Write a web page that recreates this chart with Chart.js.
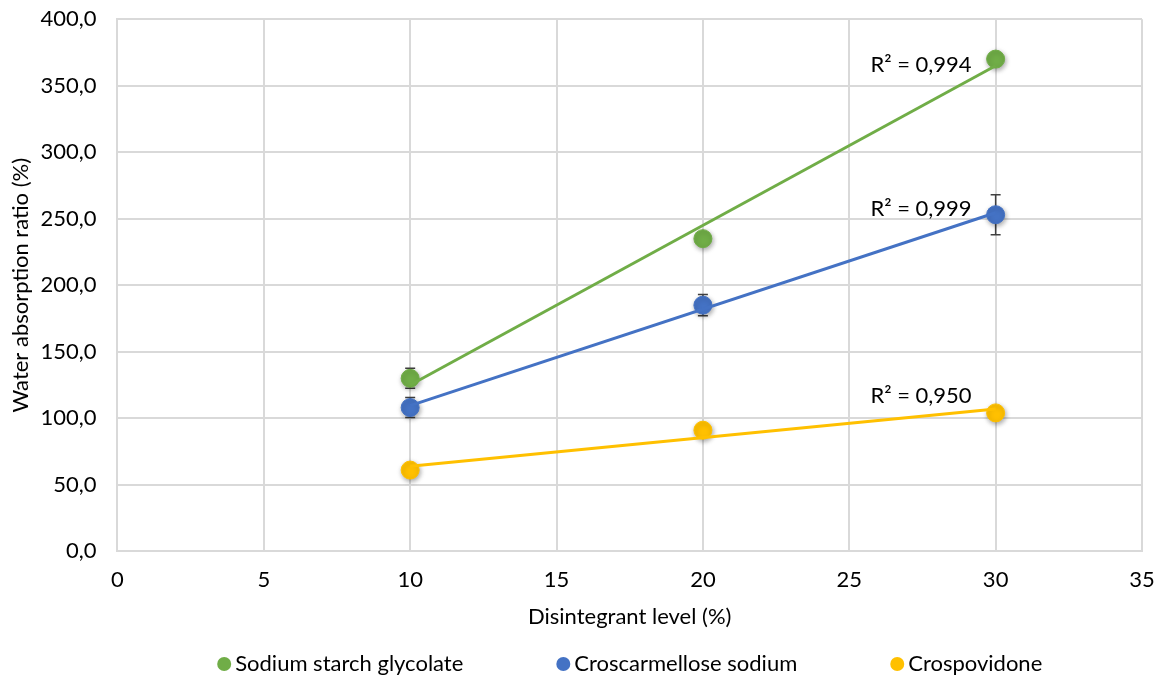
<!DOCTYPE html>
<html>
<head>
<meta charset="utf-8">
<script src="https://cdn.jsdelivr.net/npm/chart.js@4"></script>
<style>
  html, body { margin: 0; padding: 0; background: #fff; }
  #wrap { width: 1165px; height: 682px; }
</style>
</head>
<body>
<div id="wrap"><canvas id="waterChart"></canvas></div>
<script>
// disintegrant level (%) and measured water absorption ratio (%)
const levels = [10, 20, 30];
const sodiumStarch = [130, 235, 370];
const croscarmellose = [108, 185, 253];
const crospovidone = [61, 91, 104];

// standard deviations (error bars)
const sodiumStarchSd = [7.5, 3, 4];
const croscarmelloseSd = [7.5, 8, 15];
const crospovidoneSd = [2, 2, 2];

const seriesNames = ["Sodium starch glycolate", "Croscarmellose sodium", "Crospovidone"];
const seriesColors = ["#70AD47", "#4472C4", "#FFC000"];
const rSquared = ["0,994", "0,999", "0,950"];

const yTicks = [0, 50, 100, 150, 200, 250, 300, 350, 400];
const xTicks = [0, 5, 10, 15, 20, 25, 30, 35];

const FONT = "Lato, 'DejaVu Sans', sans-serif";
const FSIZE = 22;

// least squares line through the measured points
const fitLine = (xs, ys) => {
  const n = xs.length;
  const mx = xs.reduce((a, b) => a + b, 0) / n;
  const my = ys.reduce((a, b) => a + b, 0) / n;
  let sxy = 0, sxx = 0;
  xs.forEach((x, i) => { sxy += (x - mx) * (ys[i] - my); sxx += (x - mx) * (x - mx); });
  const slope = sxy / sxx;
  const icpt = my - slope * mx;
  const x0 = xs[0], x1 = xs[n - 1];
  return [{ x: x0, y: icpt + slope * x0 }, { x: x1, y: icpt + slope * x1 }];
};

const allValues = [sodiumStarch, croscarmellose, crospovidone];
const allSd = [sodiumStarchSd, croscarmelloseSd, crospovidoneSd];
// vertical nudge of each R² label relative to the end of its line (px)
const rNudge = [-1, -4, -13];

const pointSets = allValues.map((vals, i) => ({
  label: seriesNames[i],
  data: levels.map((x, j) => ({ x: x, y: vals[j] })),
  sd: allSd[i],
  backgroundColor: seriesColors[i],
  borderColor: seriesColors[i],
  pointRadius: 9,
  pointHoverRadius: 9,
  showLine: false,
  order: 2
}));

const trendSets = allValues.map((vals, i) => ({
  label: "trend " + i,
  isTrend: true,
  rText: "R² = " + rSquared[i],
  rNudge: rNudge[i],
  data: fitLine(levels, vals),
  borderColor: seriesColors[i],
  backgroundColor: seriesColors[i],
  borderWidth: 3,
  pointRadius: 0,
  showLine: true,
  order: 1
}));

// error bars + soft shadow under the markers
const errorBars = {
  id: "errorBars",
  beforeDatasetDraw(chart, args) {
    const ds = chart.data.datasets[args.index];
    if (ds.isTrend) return;
    const ctx = chart.ctx;
    const xs = chart.scales.x, ys = chart.scales.y;
    ctx.save();
    ctx.strokeStyle = "#404040";
    ctx.lineWidth = 1.5;
    ds.data.forEach((p, j) => {
      const px = xs.getPixelForValue(p.x);
      const top = ys.getPixelForValue(p.y + ds.sd[j]);
      const bot = ys.getPixelForValue(p.y - ds.sd[j]);
      ctx.beginPath();
      ctx.moveTo(px, top); ctx.lineTo(px, bot);
      ctx.moveTo(px - 5, top); ctx.lineTo(px + 5, top);
      ctx.moveTo(px - 5, bot); ctx.lineTo(px + 5, bot);
      ctx.stroke();
    });
    ctx.restore();
    ctx.save();
    ctx.shadowColor = "rgba(0,0,0,0.35)";
    ctx.shadowBlur = 5;
    ctx.shadowOffsetX = 1;
    ctx.shadowOffsetY = 2;
  },
  afterDatasetDraw(chart, args) {
    const ds = chart.data.datasets[args.index];
    if (!ds.isTrend) chart.ctx.restore();
  }
};

// R² labels next to the last point of each trend line
const rLabels = {
  id: "rLabels",
  afterDatasetsDraw(chart) {
    const ctx = chart.ctx;
    const xs = chart.scales.x, ys = chart.scales.y;
    ctx.save();
    ctx.font = FSIZE + "px " + FONT;
    ctx.fillStyle = "#000";
    ctx.textAlign = "right";
    ctx.textBaseline = "middle";
    chart.data.datasets.filter(d => d.isTrend).forEach(ds => {
      const last = ds.data[ds.data.length - 1];
      const px = xs.getPixelForValue(last.x) - 24;
      const py = ys.getPixelForValue(last.y) + ds.rNudge;
      ctx.fillText(ds.rText, px, py);
    });
    ctx.restore();
  }
};

// one-row legend under the x axis title, centred on the plot area
const bottomLegend = {
  id: "bottomLegend",
  afterDraw(chart) {
    const ctx = chart.ctx;
    const area = chart.chartArea;
    const gap = 93, dot = 7, textGap = 4;
    ctx.save();
    ctx.font = FSIZE + "px " + FONT;
    const widths = seriesNames.map(n => ctx.measureText(n).width);
    const total = widths.reduce((a, w) => a + dot * 2 + textGap + w, 0) + gap * (seriesNames.length - 1);
    let x = (area.left + area.right) / 2 - total / 2;
    const y = chart.height - 18;
    ctx.textBaseline = "middle";
    seriesNames.forEach((name, i) => {
      ctx.fillStyle = seriesColors[i];
      ctx.beginPath();
      ctx.arc(x + dot, y, dot, 0, Math.PI * 2);
      ctx.fill();
      ctx.fillStyle = "#000";
      ctx.fillText(name, x + dot * 2 + textGap, y);
      x += dot * 2 + textGap + widths[i] + gap;
    });
    ctx.restore();
  }
};

// invisible tick marks keep the labels clear of the axes
const hiddenTicks = len => ({ color: "#d9d9d9", lineWidth: 2, drawTicks: true, tickLength: len, tickColor: "rgba(0,0,0,0)" });

new Chart(document.getElementById("waterChart"), {
  type: "scatter",
  data: { datasets: [...pointSets, ...trendSets] },
  options: {
    responsive: true,
    maintainAspectRatio: false,
    animation: false,
    layout: { padding: { left: 8, right: 23, top: 0, bottom: 52 } },
    scales: {
      x: {
        type: "linear",
        min: 0, max: 35,
        afterBuildTicks: axis => { axis.ticks = xTicks.map(v => ({ value: v })); },
        grid: hiddenTicks(14),
        border: { color: "#d9d9d9", width: 2 },
        ticks: { color: "#000", font: { family: FONT, size: FSIZE }, padding: 2 },
        title: { display: true, text: "Disintegrant level (%)", color: "#000", font: { family: FONT, size: FSIZE }, padding: { top: 8, bottom: 0 } }
      },
      y: {
        type: "linear",
        min: 0, max: 400,
        afterBuildTicks: axis => { axis.ticks = yTicks.map(v => ({ value: v })); },
        grid: hiddenTicks(15),
        border: { color: "#d9d9d9", width: 2 },
        ticks: {
          color: "#000", font: { family: FONT, size: FSIZE }, padding: 6,
          callback: v => v.toFixed(1).replace(".", ",")
        },
        title: { display: true, text: "Water absorption ratio (%)", color: "#000", font: { family: FONT, size: FSIZE }, padding: { top: 0, bottom: 0 } }
      }
    },
    plugins: {
      legend: { display: false },
      tooltip: { enabled: false }
    }
  },
  plugins: [errorBars, rLabels, bottomLegend]
});
</script>
</body>
</html>
